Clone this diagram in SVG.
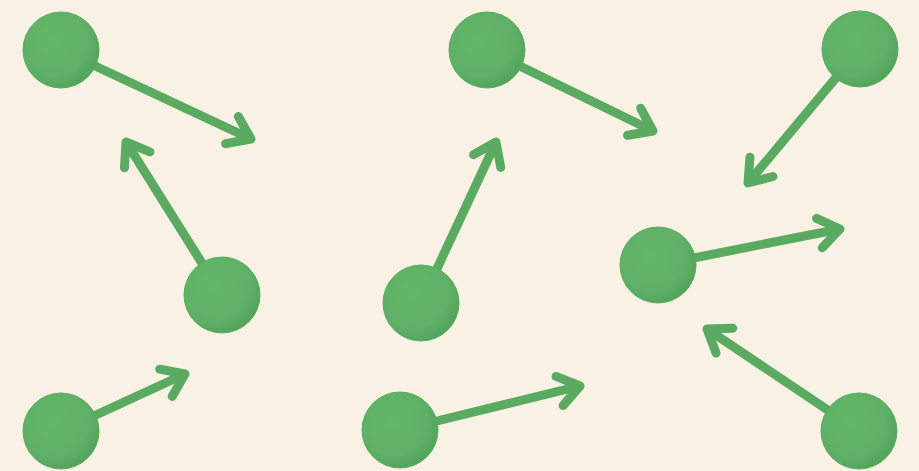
<svg xmlns="http://www.w3.org/2000/svg" width="919" height="471" viewBox="0 0 919 471">
<style>
.c{stroke:#5aab61;stroke-width:9;fill:none;marker-end:url(#ah)}
.n{fill:url(#g);stroke:#58aa60;stroke-width:1}
</style>
<defs>
<radialGradient id="g" cx="0.4" cy="0.38" r="0.65">
<stop offset="0" stop-color="#63b76a"/>
<stop offset="0.7" stop-color="#5eb166"/>
<stop offset="1" stop-color="#52a35b"/>
</radialGradient>
<marker id="ah" markerUnits="userSpaceOnUse" orient="auto" refX="0" refY="0" markerWidth="40" markerHeight="40" overflow="visible">
<path d="M-21,-15 L0,0 L-21,15" fill="none" stroke="#5aab61" stroke-width="9" stroke-linecap="round" stroke-linejoin="round"/>
</marker>
</defs>
<rect width="919" height="471" fill="#f9f2e4"/>
<g id="connectors">
<line class="c" x1="61" y1="50" x2="251" y2="139"/>
<line class="c" x1="222" y1="295" x2="126" y2="142"/>
<line class="c" x1="61" y1="431" x2="185" y2="374"/>
<line class="c" x1="487" y1="50" x2="653" y2="131"/>
<line class="c" x1="421" y1="303" x2="496" y2="142"/>
<line class="c" x1="400" y1="430" x2="580" y2="386"/>
<line class="c" x1="860" y1="49" x2="748" y2="183"/>
<line class="c" x1="658" y1="265" x2="840" y2="229"/>
<line class="c" x1="859" y1="431" x2="707" y2="329"/>
</g>
<g id="n1"><circle class="n" cx="61" cy="50" r="38"/></g>
<g id="n2"><circle class="n" cx="222" cy="295" r="38"/></g>
<g id="n3"><circle class="n" cx="61" cy="431" r="38"/></g>
<g id="n4"><circle class="n" cx="487" cy="50" r="38"/></g>
<g id="n5"><circle class="n" cx="421" cy="303" r="38"/></g>
<g id="n6"><circle class="n" cx="400" cy="430" r="38"/></g>
<g id="n7"><circle class="n" cx="860" cy="49" r="38"/></g>
<g id="n8"><circle class="n" cx="658" cy="265" r="38"/></g>
<g id="n9"><circle class="n" cx="859" cy="431" r="38"/></g>
</svg>
